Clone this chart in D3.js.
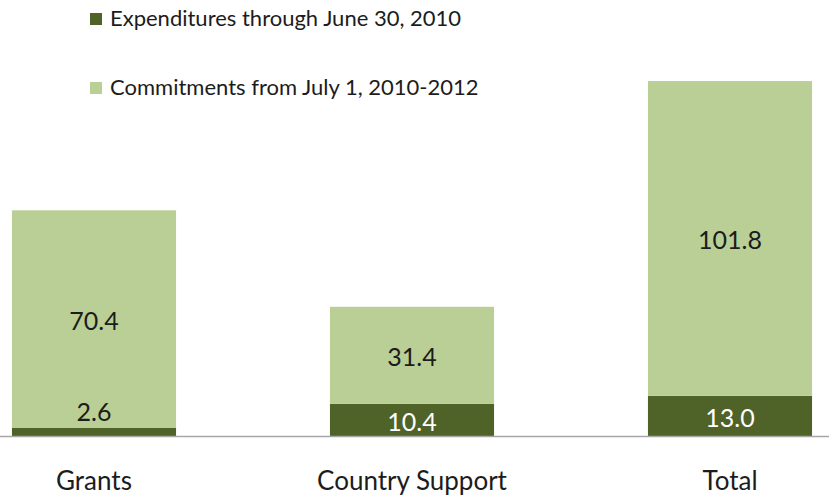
<!DOCTYPE html>
<html>
<head>
<meta charset="utf-8">
<script src="https://cdn.jsdelivr.net/npm/d3@7"></script>
<style>
  body { margin: 0; background: #fff; }
  svg { display: block; font-family: Lato, "Noto Sans", sans-serif; }
</style>
</head>
<body>
<svg id="chart" width="829" height="496"></svg>
<script>
// data
var categories = ["Grants", "Country Support", "Total"];
var expenditures = [2.6, 10.4, 13.0];
var commitments = [70.4, 31.4, 101.8];
var seriesNames = ["Expenditures through June 30, 2010", "Commitments from July 1, 2010-2012"];

var darkGreen = "#4f6228";
var lightGreen = "#b9cf96";
var textColor = "#1c1c1c";

var svg = d3.select("#chart");

var x = d3.scaleBand()
  .domain(categories)
  .range([-65, 889])
  .paddingInner(0.484)
  .paddingOuter(0.242);

var y = d3.scaleLinear()
  .domain([0, 120])
  .range([436, 65]);

var rows = categories.map(function(c, i) {
  return {cat: c, exp: expenditures[i], com: commitments[i]};
});

var stack = d3.stack().keys(["exp", "com"]);
var layers = stack(rows);
var colors = [darkGreen, lightGreen];

// bars
svg.selectAll(".layer")
  .data(layers)
  .enter().append("g")
  .attr("class", "layer")
  .style("fill", function(d, i) { return colors[i]; })
  .selectAll("rect")
  .data(function(d) { return d; })
  .enter().append("rect")
  .attr("x", function(d) { return x(d.data.cat); })
  .attr("y", function(d) { return y(d[1]); })
  .attr("width", x.bandwidth())
  .attr("height", function(d) { return y(d[0]) - y(d[1]); });

// axis line
svg.append("line")
  .attr("x1", 0).attr("x2", 829)
  .attr("y1", y(0) + 0.5).attr("y2", y(0) + 0.5)
  .style("stroke", "#a6a6a6")
  .style("stroke-width", 1.5);

// value labels
layers.forEach(function(layer, li) {
  svg.selectAll(".val" + li)
    .data(layer)
    .enter().append("text")
    .attr("class", "val" + li)
    .attr("x", function(d) { return x(d.data.cat) + x.bandwidth() / 2; })
    .attr("y", function(d) {
      var v = d[1] - d[0];
      if (li === 0 && v < 5) return y(d[1]) - 7;   // tiny segment: label sits above it
      return (y(d[0]) + y(d[1])) / 2 + 11;
    })
    .attr("text-anchor", "middle")
    .style("font-size", "25px")
    .style("fill", function(d) {
      return (li === 0 && d[1] - d[0] >= 5) ? "#fff" : textColor;
    })
    .text(function(d) { return (d[1] - d[0]).toFixed(1); });
});

// category labels
svg.selectAll(".cat")
  .data(categories)
  .enter().append("text")
  .attr("class", "cat")
  .attr("x", function(d) { return x(d) + x.bandwidth() / 2; })
  .attr("y", 490)
  .attr("text-anchor", "middle")
  .style("font-size", "26px")
  .style("fill", textColor)
  .text(function(d) { return d; });

// legend
var legend = svg.selectAll(".legend")
  .data(seriesNames)
  .enter().append("g")
  .attr("class", "legend")
  .attr("transform", function(d, i) { return "translate(90," + (13 + i * 69) + ")"; });

legend.append("rect")
  .attr("width", 12).attr("height", 12)
  .style("fill", function(d, i) { return colors[i]; });

legend.append("text")
  .attr("x", 20)
  .attr("y", 13)
  .style("font-size", "22px")
  .style("fill", textColor)
  .text(function(d) { return d; });
</script>
</body>
</html>
